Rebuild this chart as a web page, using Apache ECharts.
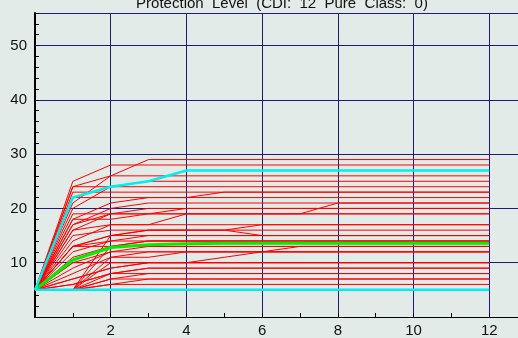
<!DOCTYPE html>
<html>
<head>
<meta charset="utf-8">
<script src="https://cdn.jsdelivr.net/npm/echarts@6/dist/echarts.min.js"></script>
<style>
  html, body { margin: 0; padding: 0; background: #e3ebe8; }
  #chart { width: 518px; height: 338px; }
</style>
</head>
<body>
<div id="chart"></div>
<script>
// title and axis ticks
var titleText = 'Protection  Level  (CDI:  12  Pure  Class:  0)';
var xTicks = [0, 2, 4, 6, 8, 10, 12];
var yTicks = [0, 10, 20, 30, 40, 50];

// red runs: [x, level] vertices
var redRuns = [
  [[0,5],[1,25],[2,28],[12,28]],
  [[0,5],[1,21],[2,26],[3,29],[12,29]],
  [[0,5],[1,24],[2,26],[12,26]],
  [[0,5],[1,20],[2,24],[3,25],[12,25]],
  [[0,5],[1,24],[2,24],[12,24]],
  [[0,5],[1,23],[2,23],[12,23]],
  [[0,5],[1,18],[2,21],[3,22],[4,22],[5,23],[12,23]],
  [[0,5],[1,22],[2,22],[12,22]],
  [[0,5],[1,17],[2,20],[3,21],[12,21]],
  [[0,5],[1,16],[2,19],[3,19],[4,20],[12,20]],
  [[0,5],[1,19],[2,19],[3,20],[12,20]],
  [[0,5],[1,17],[2,19],[7,19],[8,21],[12,21]],
  [[0,5],[1,18],[2,18],[3,19],[12,19]],
  [[0,5],[1,15],[2,16],[5,16],[6,17],[12,17]],
  [[0,5],[1,13],[2,15],[3,16],[5,16],[6,15],[12,15]],
  [[0,5],[1,16],[2,17],[12,17]],
  [[0,5],[1,13],[2,15],[3,15],[12,15]],
  [[0,5],[1,13],[2,14],[12,14]],
  [[0,5],[1,11],[2,13],[3,14],[12,14]],
  [[0,5],[1,13],[2,13],[12,13]],
  [[0,5],[1,9],[2,12],[3,13],[12,13]],
  [[0,5],[1,10],[2,12],[12,12]],
  [[0,5],[1,8],[2,11],[3,11],[4,12],[6,12],[7,13],[12,13]],
  [[0,5],[1,10],[2,10],[12,10]],
  [[0,5],[1,7],[2,9],[3,10],[12,10]],
  [[0,5],[1,7],[2,9],[3,10],[4,10],[5,11],[6,12],[12,12]],
  [[0,5],[1,6],[2,8],[3,9],[12,9]],
  [[0,5],[1,6],[2,8],[12,8]],
  [[0,5],[1,5],[2,7],[3,8],[12,8]],
  [[0,5],[1,5],[2,7],[12,7]],
  [[0,5],[1,5],[2,6],[3,7],[12,7]],
  [[0,5],[1,5],[2,6],[12,6]],
  [[0,5],[1,5],[2,15],[3,16],[12,16]],
  [[0,5],[1,5],[2,13],[3,14],[12,14]],
  [[0,5],[1,5],[2,11],[3,12],[12,12]],
  [[0,5],[1,5],[2,10],[3,10],[12,10]],
  [[0,5],[1,5],[2,8],[3,9],[12,9]],
  [[0,5],[1,12],[2,14],[3,15],[12,15]],
  [[0,5],[1,14],[2,17],[3,17],[4,19],[12,19]]
];

// highlighted runs
var greenRun = [[0,5],[1,10.5],[2,12.8],[3,13.3],[4,13.5],[5,13.6],[12,13.6]];
var cyanTop = [[0,5],[1,22],[2,24],[3,25],[4,27],[12,27]];
var cyanBase = [[0,5],[12,5]];

var myChart = echarts.init(document.getElementById('chart'));

var series = [];
for (var i = 0; i < redRuns.length; i++) {
  series.push({
    type: 'line',
    data: redRuns[i],
    symbol: 'none',
    silent: true,
    lineStyle: { color: '#ff0000', width: 1 }
  });
}
series.push({ type: 'line', data: greenRun, symbol: 'none',
  lineStyle: { color: '#00ee00', width: 3 } });
series.push({ type: 'line', data: cyanTop, symbol: 'none',
  lineStyle: { color: '#00eeee', width: 2.5 } });
series.push({ type: 'line', data: cyanBase, symbol: 'none',
  lineStyle: { color: '#00eeee', width: 2.5 } });

var labelFont = { fontFamily: 'Liberation Sans', fontSize: 15, color: '#111' };

var option = {
  backgroundColor: '#e3ebe8',
  animation: false,
  title: {
    text: titleText,
    left: 277,
    textAlign: 'center',
    top: -9,
    textStyle: { fontFamily: 'Liberation Sans', fontSize: 15, fontWeight: 'normal', color: '#111' }
  },
  grid: { left: 35, top: 13, right: -2, bottom: 20, containLabel: false },
  xAxis: [{
    type: 'value',
    min: xTicks[0],
    max: 12.76,
    interval: 2,
    axisLine: { show: true, onZero: false, lineStyle: { color: '#000', width: 1 } },
    axisTick: { show: true, inside: true, length: 4, lineStyle: { color: '#000' } },
    minorTick: { show: true, splitNumber: 2, length: 4, lineStyle: { color: '#000', width: 1 } },
    axisLabel: Object.assign({ showMinLabel: false, showMaxLabel: false, margin: 6 }, labelFont),
    splitLine: { show: true, lineStyle: { color: '#1c1c7c', width: 1 } }
  }, {
    // top border of the plot
    type: 'value',
    position: 'top',
    min: xTicks[0],
    max: 12.76,
    axisLine: { show: true, lineStyle: { color: '#000', width: 1 } },
    axisTick: { show: false },
    axisLabel: { show: false },
    splitLine: { show: false }
  }],
  yAxis: {
    type: 'value',
    min: yTicks[0],
    max: 56,
    interval: 10,
    axisLine: { show: true, onZero: false, lineStyle: { color: '#000', width: 2 } },
    axisTick: { show: true, inside: true, length: 4, lineStyle: { color: '#000' } },
    minorTick: { show: true, splitNumber: 5, length: 4, lineStyle: { color: '#000', width: 1 } },
    axisLabel: Object.assign({ showMinLabel: false, showMaxLabel: false, margin: 8 }, labelFont),
    splitLine: { show: true, lineStyle: { color: '#1c1c7c', width: 1 } }
  },
  series: series
};

myChart.setOption(option);
</script>
</body>
</html>
